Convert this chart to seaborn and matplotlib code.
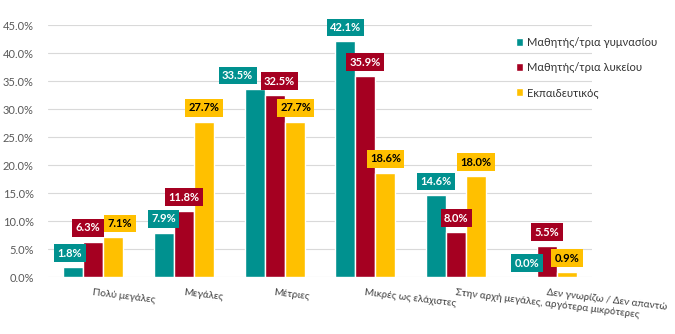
import numpy as np
import pandas as pd
import seaborn as sns
import matplotlib
matplotlib.use("Agg")
import matplotlib.pyplot as plt

categories = ["Πολύ μεγάλες", "Μεγάλες", "Μέτριες", "Μικρές ως ελάχιστες",
              "Στην αρχή μεγάλες, αργότερα μικρότερες", "Δεν γνωρίζω / Δεν απαντώ"]
series_names = ["Μαθητής/τρια γυμνασίου", "Μαθητής/τρια λυκείου", "Εκπαιδευτικός"]
gymnasio = [1.8, 7.9, 33.5, 42.1, 14.6, 0.0]
lykeio = [6.3, 11.8, 32.5, 35.9, 8.0, 5.5]
ekpaideutikos = [7.1, 27.7, 27.7, 18.6, 18.0, 0.9]
yticks = [0, 5, 10, 15, 20, 25, 30, 35, 40, 45]

colors = ["#00918F", "#A50021", "#FFC000"]
text_colors = ["white", "white", "black"]

# label nudges (styling only, pixels)
label_dx = [[-3, 0, -17, 0, 0, 0],
            [-5, 0, 5, 0, 0, 0],
            [7, 0, 1, 0, 0, 0]]

df = pd.DataFrame({
    "cat": categories * 3,
    "series": sum([[s] * len(categories) for s in series_names], []),
    "value": gymnasio + lykeio + ekpaideutikos,
})

sns.set_theme(style="white")
plt.rcParams["font.family"] = ["Lato", "DejaVu Sans"]

fig = plt.figure(figsize=(6.75, 3.34), dpi=100)
ax = fig.add_axes([47.6 / 675, 1 - 277 / 334, (592.4 - 47.6) / 675, (277 - 25) / 334])

sns.barplot(data=df, x="cat", y="value", hue="series", order=categories,
            hue_order=series_names, palette=colors, width=0.66, gap=0,
            saturation=1, ax=ax, legend=True)

ax.set_ylim(0, 45)
ax.set_yticks(yticks)
ax.set_yticklabels([f"{v:.1f}%" for v in yticks], color="#595959", fontsize=8)
ax.yaxis.grid(True, color="#D9D9D9", linewidth=0.8)
ax.set_axisbelow(True)
for s in ax.spines.values():
    s.set_visible(False)
ax.tick_params(axis="y", length=0, pad=10)
ax.tick_params(axis="x", length=0, pad=8)
ax.set_xlabel("")
ax.set_ylabel("")

ax.set_xticks(range(len(categories)))
ax.set_xticklabels(categories, rotation=-7, ha="left", va="top",
                   rotation_mode="anchor", color="#404040", fontsize=7.2)

# data labels
for si, cont in enumerate(ax.containers):
    for ci, bar in enumerate(cont):
        val = bar.get_height()
        x = bar.get_x() + bar.get_width() / 2
        ax.annotate(f"{val:.1f}%", (x, val), xytext=(label_dx[si][ci] * 0.72, 10),
                    textcoords="offset points", ha="center", va="center",
                    fontsize=8, fontweight="bold", color=text_colors[si],
                    bbox=dict(boxstyle="square,pad=0.3", fc=colors[si], ec="none"),
                    zorder=5)

handles, labels = ax.get_legend_handles_labels()
ax.get_legend().remove()
fig.legend(handles, labels, loc="upper left", bbox_to_anchor=(516 / 675, 1 - 37 / 334),
           frameon=False, fontsize=8, handlelength=0.65, handleheight=0.65,
           handletextpad=0.3, labelspacing=1.25, borderpad=0, borderaxespad=0,
           labelcolor="#333333")

fig.savefig("out.png", dpi=100)
